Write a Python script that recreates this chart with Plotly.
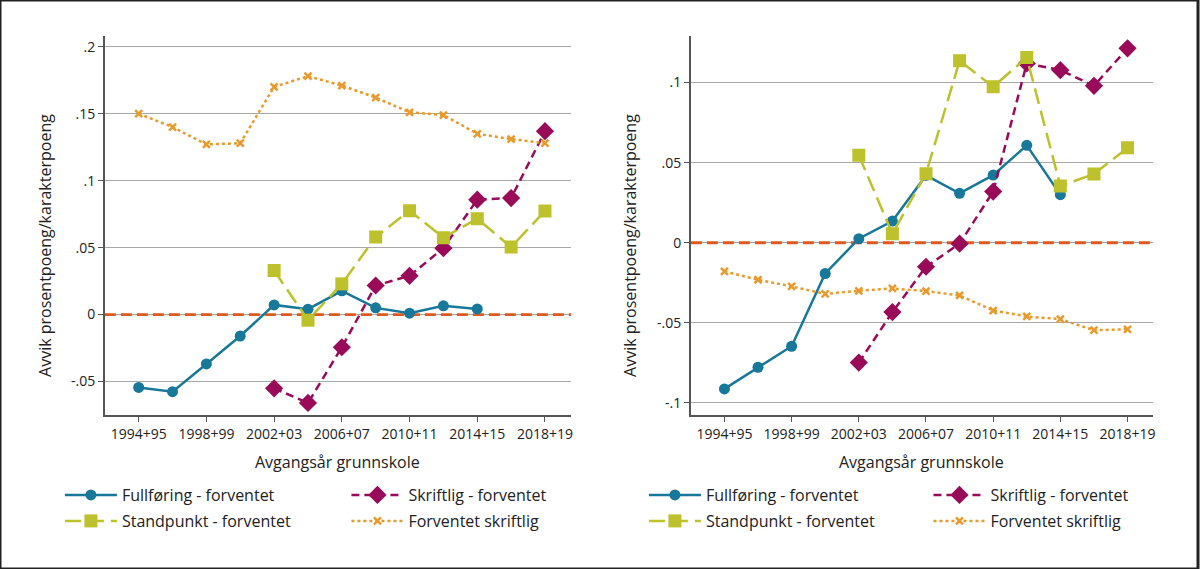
import plotly.graph_objects as go

W, H = 1200, 569

categories = ["1994+95", "1996+97", "1998+99", "2000+01", "2002+03", "2004+05", "2006+07",
              "2008+09", "2010+11", "2012+13", "2014+15", "2016+17", "2018+19"]
tick_labels = ["1994+95", "1998+99", "2002+03", "2006+07", "2010+11", "2014+15", "2018+19"]

# Left panel
left_fullforing = [-0.0544, -0.0576, -0.0369, -0.0160, 0.0072, 0.0040, 0.0177, 0.0050, 0.0010, 0.0065, 0.0042, None, None]
left_skriftlig = [None, None, None, None, -0.0551, -0.0660, -0.0244, 0.0217, 0.0289, 0.0496, 0.0858, 0.0870, 0.1369]
left_standpunkt = [None, None, None, None, 0.0329, -0.0042, 0.0229, 0.0579, 0.0776, 0.0574, 0.0716, 0.0504, 0.0773]
left_forventet = [0.150, 0.140, 0.127, 0.128, 0.170, 0.178, 0.171, 0.162, 0.151, 0.149, 0.135, 0.131, 0.128]

# Right panel
right_fullforing = [-0.0912, -0.0777, -0.0646, -0.0192, 0.0025, 0.0135, 0.0420, 0.0308, 0.0422, 0.0608, 0.0300, None, None]
right_skriftlig = [None, None, None, None, -0.0748, -0.0433, -0.0150, -0.0006, 0.0319, 0.1119, 0.1077, 0.0979, 0.1213]
right_standpunkt = [None, None, None, None, 0.0546, 0.0056, 0.0431, 0.1135, 0.0973, 0.1156, 0.0354, 0.0429, 0.0592]
right_forventet = [-0.0179, -0.0231, -0.0273, -0.0319, -0.0300, -0.0285, -0.0302, -0.0329, -0.0423, -0.0460, -0.0477, -0.0546, -0.0540]

left_yticks = [-0.05, 0, 0.05, 0.1, 0.15, 0.2]
left_yticktext = ["-.05", "0", ".05", ".1", ".15", ".2"]
right_yticks = [-0.1, -0.05, 0, 0.05, 0.1]
right_yticktext = ["-.1", "-.05", "0", ".05", ".1"]

names = ["Fullføring - forventet", "Skriftlig - forventet", "Standpunkt - forventet", "Forventet skriftlig"]

BLUE = "#17789A"
PURPLE = "#990A58"
GREEN = "#BCC12C"
ORANGE = "#E99A2C"
ZERO = "#E0581C"
FONT = "Open Sans"

XRANGE_L = [-1.0, 12.77]
XRANGE_R = [-1.0, 12.76]

styles = [
    dict(line=dict(color=BLUE, width=2.5, dash="solid"), marker=dict(symbol="circle", size=11, color=BLUE)),
    dict(line=dict(color=PURPLE, width=2.5, dash="8px,5px"), marker=dict(symbol="diamond", size=14, color=PURPLE)),
    dict(line=dict(color=GREEN, width=2.5, dash="16px,7px"), marker=dict(symbol="square", size=13, color=GREEN)),
    dict(line=dict(color=ORANGE, width=2.5, dash="3px,3px"), marker=dict(symbol="x-thin", size=7, color=ORANGE,
                                                                       line=dict(color=ORANGE, width=2.5))),
]

fig = go.Figure()

panels = [
    ("x", "y", [left_fullforing, left_skriftlig, left_standpunkt, left_forventet], 0),
    ("x2", "y2", [right_fullforing, right_skriftlig, right_standpunkt, right_forventet], 4),
]
for xa, ya, series, loff in panels:
    for k, (nm, vals, st) in enumerate(zip(names, series, styles)):
        lg = "legend" if loff + k == 0 else f"legend{loff + k + 1}"
        fig.add_trace(go.Scatter(
            x=categories, y=vals, name=nm, mode="lines+markers",
            line=st["line"], marker=st["marker"], xaxis=xa, yaxis=ya,
            legend=lg, connectgaps=False, showlegend=True,
        ))

def px_x(p):
    return p / W

def px_y(p):
    return 1 - p / H

ydom = [px_y(415), px_y(36)]
axis_common = dict(showline=True, linecolor="#555555", linewidth=1.5, ticks="outside", ticklen=5,
                   tickcolor="#555555", tickfont=dict(family=FONT, size=14, color="#222222"))

fig.update_layout(
    width=W, height=H, margin=dict(l=0, r=0, t=0, b=0),
    paper_bgcolor="white", plot_bgcolor="white",
    font=dict(family=FONT, color="#222222"),
    xaxis=dict(domain=[px_x(105), px_x(572)], type="category", categoryorder="array", categoryarray=categories,
               range=XRANGE_L, tickvals=tick_labels, ticktext=tick_labels, showgrid=False,
               anchor="y", **axis_common),
    yaxis=dict(domain=ydom, range=[-0.075, 0.208], tickvals=left_yticks, ticktext=left_yticktext,
               showgrid=True, gridcolor="#A8A8A8", gridwidth=1, zeroline=False, anchor="x", **axis_common),
    xaxis2=dict(domain=[px_x(692), px_x(1155)], type="category", categoryorder="array", categoryarray=categories,
                range=XRANGE_R, tickvals=tick_labels, ticktext=tick_labels, showgrid=False,
                anchor="y2", **axis_common),
    yaxis2=dict(domain=ydom, range=[-0.1075, 0.129], tickvals=right_yticks, ticktext=right_yticktext,
                showgrid=True, gridcolor="#A8A8A8", gridwidth=1, zeroline=False, anchor="x2", **axis_common),
    showlegend=True,
)

# zero reference lines (between gridlines and data)
for xr, yr, rng in [("x", "y", XRANGE_L), ("x2", "y2", XRANGE_R)]:
    fig.add_shape(type="line", xref=xr, yref=yr, x0=rng[0], x1=rng[1], y0=0, y1=0,
                  line=dict(color=ZERO, width=2.8, dash="11px,5px"), layer="between")

# outer border
fig.add_shape(type="rect", xref="paper", yref="paper", x0=0, x1=1, y0=0, y1=1,
              line=dict(color="#222222", width=3), fillcolor="rgba(0,0,0,0)")

# legends: one per entry for exact placement
leg_pos = [
    (60, 495), (347, 495), (60, 521), (347, 521),
    (645, 495), (930, 495), (645, 521), (930, 521),
]
legs = {}
for i, (lx, ly) in enumerate(leg_pos):
    key = "legend" if i == 0 else f"legend{i + 1}"
    legs[key] = dict(x=px_x(lx), y=px_y(ly), xanchor="left", yanchor="middle", orientation="v",
                     bgcolor="rgba(0,0,0,0)", borderwidth=0, itemwidth=52,
                     font=dict(family=FONT, size=16, color="#222222"))
fig.update_layout(**legs)

# axis titles
ann = []
for cx in [(105 + 572) / 2, (692 + 1155) / 2]:
    ann.append(dict(text="Avgangsår grunnskole", x=px_x(cx), y=px_y(462), xref="paper", yref="paper",
                    showarrow=False, xanchor="center", yanchor="middle",
                    font=dict(family=FONT, size=16, color="#222222")))
for cx in [45, 631]:
    ann.append(dict(text="Avvik prosentpoeng/karakterpoeng", x=px_x(cx), y=px_y(245), xref="paper", yref="paper",
                    showarrow=False, xanchor="center", yanchor="middle", textangle=-90,
                    font=dict(family=FONT, size=16, color="#222222")))
fig.update_layout(annotations=ann)

fig.write_html("out.html")
